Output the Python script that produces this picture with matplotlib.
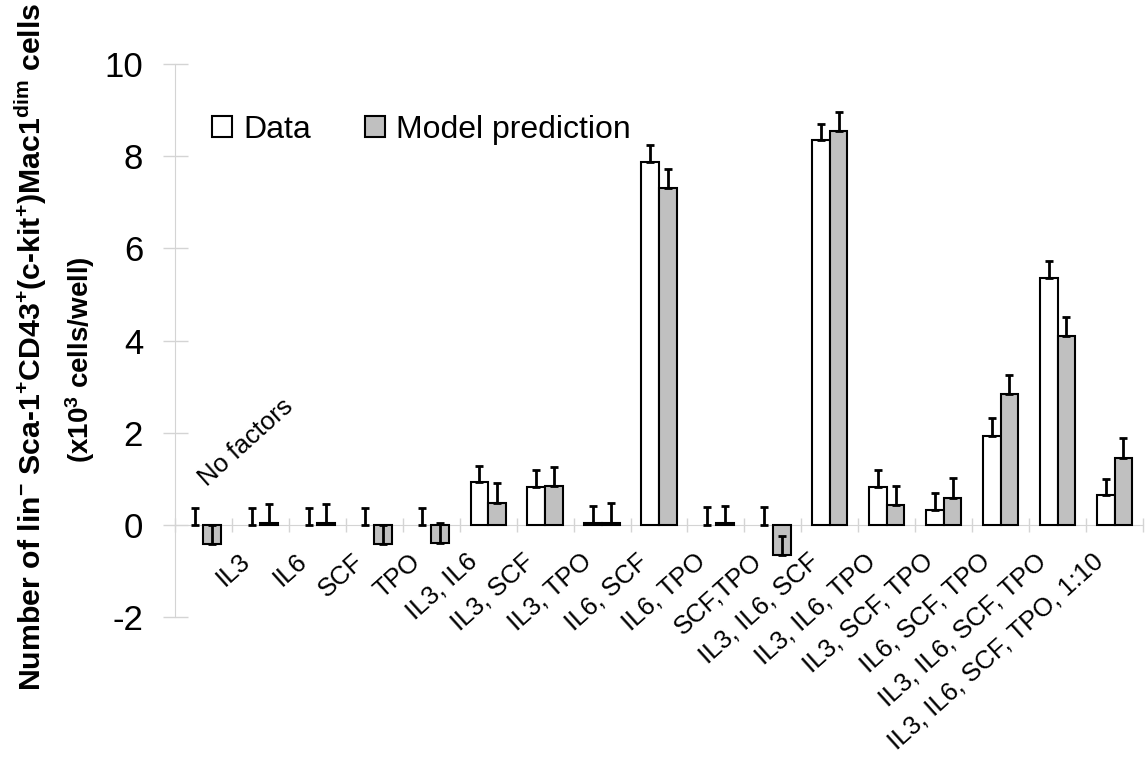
import matplotlib
matplotlib.use("Agg")
import matplotlib.pyplot as plt
from matplotlib.patches import Patch
import numpy as np

plt.rcParams["font.family"] = ["Liberation Sans", "DejaVu Sans"]
plt.rcParams["axes.unicode_minus"] = False
plt.rcParams["mathtext.fontset"] = "custom"
plt.rcParams["mathtext.rm"] = "Liberation Sans:bold"
plt.rcParams["mathtext.bf"] = "Liberation Sans:bold"
plt.rcParams["mathtext.it"] = "Liberation Sans:bold"
plt.rcParams["mathtext.default"] = "rm"

# growth factor combinations
categories = [
    "No factors", "IL3", "IL6", "SCF", "TPO",
    "IL3, IL6", "IL3, SCF", "IL3, TPO", "IL6, SCF", "IL6, TPO", "SCF,TPO",
    "IL3, IL6, SCF", "IL3, IL6, TPO", "IL3, SCF, TPO", "IL6, SCF, TPO",
    "IL3, IL6, SCF, TPO", "IL3, IL6, SCF, TPO, 1:10",
]
data_vals = [0, 0, 0, 0, 0, 0.93, 0.82, 0.03, 7.88, 0, 0,
             8.35, 0.82, 0.32, 1.93, 5.36, 0.65]
data_err = [0.37, 0.37, 0.37, 0.37, 0.37, 0.35, 0.37, 0.38, 0.37, 0.39, 0.39,
            0.35, 0.37, 0.38, 0.39, 0.36, 0.35]
model_vals = [-0.42, 0.05, 0.05, -0.42, -0.4, 0.48, 0.85, 0.03, 7.3, 0.03, -0.65,
              8.55, 0.43, 0.58, 2.84, 4.09, 1.45]
model_err = [0.42, 0.4, 0.4, 0.42, 0.45, 0.43, 0.41, 0.45, 0.42, 0.38, 0.41,
             0.41, 0.42, 0.44, 0.41, 0.43, 0.44]

GRID_GRAY = "#d4d4d4"
MODEL_GRAY = "#c0c0c0"

fig = plt.figure(figsize=(11.46, 7.59), dpi=100)
ax = fig.add_axes([175 / 1146, 1 - 617 / 759, (1143 - 175) / 1146, (617 - 64) / 759])

x = np.arange(len(categories)) + 0.5
width = 0.31
err_kw = dict(ecolor="black", elinewidth=2, capsize=3, capthick=2)

b1 = ax.bar(x - width / 2, data_vals, width, color="white", edgecolor="black",
            linewidth=1.5, yerr=[np.zeros(len(data_err)), data_err], error_kw=err_kw)
b2 = ax.bar(x + width / 2, model_vals, width, color=MODEL_GRAY, edgecolor="black",
            linewidth=1.5, yerr=[np.zeros(len(model_err)), model_err], error_kw=err_kw)

# zero-height bars show only their error bar
for rect in list(b1) + list(b2):
    if rect.get_height() == 0:
        rect.set_edgecolor("none")

ax.set_xlim(0, len(categories))
ax.set_ylim(-2, 10)
ax.set_yticks([-2, 0, 2, 4, 6, 8, 10])
ax.set_xticks(np.arange(len(categories) + 1))

for s in ["top", "right"]:
    ax.spines[s].set_visible(False)
ax.spines["left"].set_color(GRID_GRAY)
ax.spines["bottom"].set_color(GRID_GRAY)
ax.spines["bottom"].set_position(("data", 0))
ax.spines["bottom"].set_zorder(0)

ax.tick_params(axis="y", direction="inout", length=18, width=1, color=GRID_GRAY,
               labelsize=25, pad=14)
ax.tick_params(axis="x", direction="inout", length=10, width=1, color=GRID_GRAY,
               labelbottom=False)

# category labels, rotated
for i, lab in enumerate(categories):
    if i == 0:
        ax.text(x[i] + 0.06, 0.82, lab, rotation=42, rotation_mode="anchor",
                ha="left", va="baseline", fontsize=18.5)
    else:
        ax.text(x[i] - 0.25, -0.72, lab, rotation=42, rotation_mode="anchor",
                ha="right", va="center", fontsize=18.5)

handles = [Patch(facecolor="white", edgecolor="black", linewidth=1.5),
           Patch(facecolor=MODEL_GRAY, edgecolor="black", linewidth=1.5)]
ax.legend(handles, ["Data", "Model prediction"], loc="upper left",
          bbox_to_anchor=(212 / 1146, 1 - 115 / 759), bbox_transform=fig.transFigure,
          ncol=2, frameon=False, fontsize=23, handlelength=0.62, handleheight=0.62,
          handletextpad=0.35, columnspacing=1.7, borderpad=0, borderaxespad=0)

fig.text(31 / 1146, 1 - 347 / 759,
         r"Number of lin$^{-}$ Sca-1$^{+}$CD43$^{+}$(c-kit$^{+}$)Mac1$^{dim}$ cells",
         rotation=90, ha="center", va="center", fontsize=21.8, fontweight="bold")
fig.text(80 / 1146, 1 - 360 / 759, r"(x10$^{3}$ cells/well)",
         rotation=90, ha="center", va="center", fontsize=20, fontweight="bold")

fig.savefig("out.png", dpi=100, facecolor="white")
